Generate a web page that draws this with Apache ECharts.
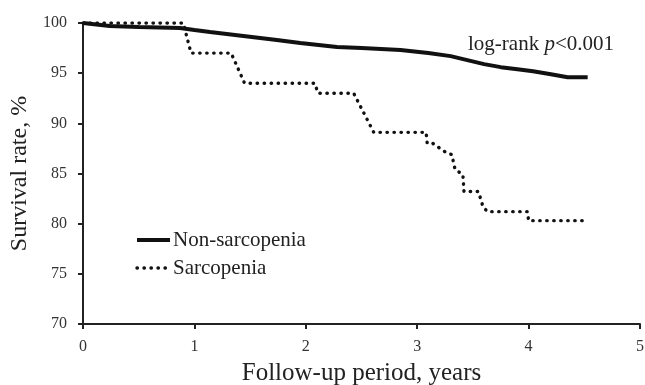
<!DOCTYPE html>
<html>
<head>
    <meta charset="utf-8">
    <title>Survival</title>
    <script src="https://cdn.jsdelivr.net/npm/echarts@6/dist/echarts.min.js"></script>
    <style>
        html, body { margin: 0; padding: 0; background: #fff; }
        #chart1 { width: 645px; height: 385px; }
    </style>
</head>
<body>
<div id="chart1"></div>
<script type="text/javascript">
    // Non-sarcopenia curve (years, survival %)
    var nonSarcYears = [0, 0.24, 0.5, 0.87, 1.0, 1.14, 1.44, 1.74, 1.95, 2.28, 2.5, 2.85, 3.1, 3.3, 3.45, 3.6, 3.75, 3.9, 4.04, 4.2, 4.35, 4.53];
    var nonSarcRate  = [100, 99.7, 99.6, 99.5, 99.3, 99.1, 98.7, 98.3, 98.0, 97.6, 97.5, 97.3, 97.0, 96.7, 96.3, 95.9, 95.6, 95.4, 95.2, 94.9, 94.6, 94.6];
    // Sarcopenia curve
    var sarcYears = [0, 0.9, 0.97, 1.33, 1.45, 2.08, 2.11, 2.43, 2.61, 3.08, 3.09, 3.14, 3.27, 3.31, 3.34, 3.41, 3.42, 3.55, 3.59, 3.63, 3.99, 4.0, 4.53];
    var sarcRate  = [100, 100, 97, 97, 94, 94, 93, 93, 89.1, 89.1, 88, 88, 87, 86.9, 85.4, 84.9, 83.2, 83.2, 81.7, 81.2, 81.2, 80.3, 80.3];

    var xTicks = [0, 1, 2, 3, 4, 5];
    var yTicks = [70, 75, 80, 85, 90, 95, 100];

    function pairs(xs, ys) {
        var out = [];
        for (var i = 0; i < xs.length; i++) out.push([xs[i], ys[i]]);
        return out;
    }

    var font = '"Liberation Serif", "Times New Roman", serif';
    var myChart1 = echarts.init(document.getElementById('chart1'));
    myChart1.setOption({
        animation: false,
        textStyle: { fontFamily: font, color: '#222' },
        title: {
            right: 26, top: 29,
            text: '{a|log-rank }{b|p}{a|<0.001}',
            textStyle: {
                fontWeight: 'normal',
                rich: {
                    a: { fontFamily: font, fontSize: 21, color: '#222', fontWeight: 'normal' },
                    b: { fontFamily: font, fontSize: 21, color: '#222', fontStyle: 'italic', fontWeight: 'normal' }
                }
            }
        },
        legend: {
            orient: 'vertical',
            left: 130, top: 224,
            itemWidth: 33, itemHeight: 10, itemGap: 6,
            itemStyle: { opacity: 0 },
            lineStyle: { width: 'inherit', type: 'inherit', cap: 'inherit' },
            textStyle: { fontFamily: font, fontSize: 21, color: '#222', lineHeight: 22, padding: [0, 0, 0, -2] },
            data: ['Non-sarcopenia', 'Sarcopenia']
        },
        grid: { left: 83, right: 5, top: 23, bottom: 61, outerBoundsMode: 'none', containLabel: false },
        xAxis: {
            type: 'value', min: 0, max: 5, interval: 1,
            name: 'Follow-up period, years', nameLocation: 'middle', nameGap: 37,
            nameTextStyle: { fontFamily: font, fontSize: 25, color: '#222' },
            axisLine: { lineStyle: { color: '#222', width: 2 } },
            axisTick: { show: true, length: 5, lineStyle: { color: '#222', width: 2 } },
            axisLabel: { fontFamily: font, fontSize: 16, color: '#333', margin: 15,
                formatter: function (v) { return xTicks.indexOf(v) >= 0 ? String(v) : ''; } },
            splitLine: { show: false }
        },
        yAxis: {
            type: 'value', min: 70, max: 100, interval: 5,
            name: 'Survival rate, %', nameLocation: 'middle', nameGap: 47,
            nameTextStyle: { fontFamily: font, fontSize: 24, color: '#222' },
            axisLine: { show: true, lineStyle: { color: '#222', width: 2 } },
            axisTick: { show: true, length: 5, lineStyle: { color: '#222', width: 2 } },
            axisLabel: { fontFamily: font, fontSize: 16, color: '#333', margin: 16,
                formatter: function (v) { return yTicks.indexOf(v) >= 0 ? String(v) : ''; } },
            splitLine: { show: false }
        },
        series: [
            {
                name: 'Non-sarcopenia', type: 'line', symbol: 'none',
                lineStyle: { color: '#111', width: 4 },
                itemStyle: { color: '#111' },
                data: pairs(nonSarcYears, nonSarcRate)
            },
            {
                name: 'Sarcopenia', type: 'line', symbol: 'none',
                lineStyle: { color: '#111', width: 3.4, type: [0.4, 6.6], cap: 'round' },
                itemStyle: { color: '#111' },
                data: pairs(sarcYears, sarcRate)
            }
        ]
    });
</script>
</body>
</html>
